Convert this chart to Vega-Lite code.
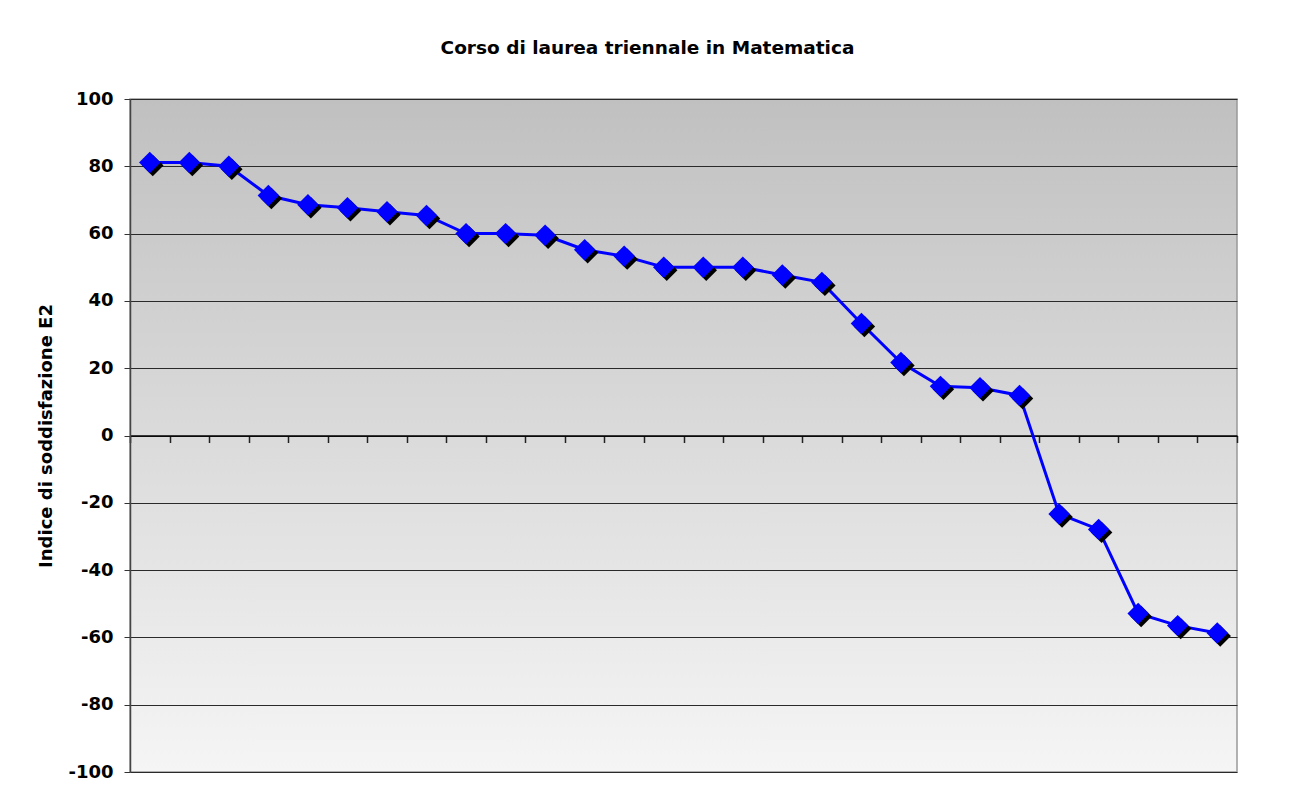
{
  "$schema": "https://vega.github.io/schema/vega-lite/v6.json",
  "width": 1107,
  "height": 673,
  "autosize": {"type": "none"},
  "padding": {"left": 130, "top": 99, "right": 53, "bottom": 36},
  "background": "white",
  "title": {
    "text": "Corso di laurea triennale in Matematica",
    "font": "DejaVu Sans",
    "fontSize": 18.5,
    "fontWeight": "bold",
    "color": "black",
    "anchor": "middle",
    "offset": 33,
    "dx": -36
  },
  "data": {
    "values": [
      {"i": 1, "v": 81.1}, {"i": 2, "v": 81.1}, {"i": 3, "v": 80.0}, {"i": 4, "v": 71.3},
      {"i": 5, "v": 68.6}, {"i": 6, "v": 67.7}, {"i": 7, "v": 66.5}, {"i": 8, "v": 65.4},
      {"i": 9, "v": 60.0}, {"i": 10, "v": 60.0}, {"i": 11, "v": 59.5}, {"i": 12, "v": 55.2},
      {"i": 13, "v": 53.3}, {"i": 14, "v": 50.0}, {"i": 15, "v": 50.0}, {"i": 16, "v": 50.0},
      {"i": 17, "v": 47.7}, {"i": 18, "v": 45.5}, {"i": 19, "v": 33.3}, {"i": 20, "v": 21.7},
      {"i": 21, "v": 14.6}, {"i": 22, "v": 14.2}, {"i": 23, "v": 11.9}, {"i": 24, "v": -23.3},
      {"i": 25, "v": -27.9}, {"i": 26, "v": -52.9}, {"i": 27, "v": -56.5}, {"i": 28, "v": -58.7}
    ]
  },
  "encoding": {
    "x": {
      "field": "i",
      "type": "ordinal",
      "scale": {"type": "band", "paddingInner": 0, "paddingOuter": 0},
      "axis": {
        "title": null,
        "labels": false,
        "offset": -336.5,
        "domainColor": "black",
        "domainWidth": 1.5,
        "tickColor": "#222",
        "tickSize": 7,
        "tickWidth": 1.5,
        "tickBand": "extent",
        "grid": false
      }
    },
    "y": {
      "field": "v",
      "type": "quantitative",
      "scale": {"domain": [-100, 100], "nice": false, "zero": false},
      "axis": {
        "title": "Indice di soddisfazione E2",
        "titleFont": "DejaVu Sans",
        "titleFontSize": 18,
        "titleFontWeight": "bold",
        "titleColor": "black",
        "titlePadding": 12,
        "values": [-100, -80, -60, -40, -20, 0, 20, 40, 60, 80, 100],
        "labelExpr": "datum.value + ''",
        "labelFont": "DejaVu Sans",
        "labelFontSize": 18,
        "labelFontWeight": "bold",
        "labelColor": "black",
        "labelPadding": 11,
        "tickSize": 6,
        "tickColor": "#333",
        "domainColor": "#444",
        "domainWidth": 1.5,
        "grid": true,
        "gridColor": "#2a2a2a",
        "gridWidth": 1,
        "gridOpacity": 1
      }
    }
  },
  "layer": [
    {"mark": {"type": "line", "color": "#0000ff", "strokeWidth": 3}},
    {"mark": {"type": "point", "shape": "diamond", "filled": true, "color": "black", "opacity": 1, "size": 460, "xOffset": 3, "yOffset": 3}},
    {"mark": {"type": "point", "shape": "diamond", "filled": true, "color": "#0000ff", "opacity": 1, "size": 460}}
  ],
  "config": {
    "view": {
      "stroke": "#999999",
      "strokeWidth": 1.5,
      "fill": {
        "gradient": "linear",
        "x1": 0, "y1": 0, "x2": 0, "y2": 1,
        "stops": [
          {"offset": 0, "color": "#c0c0c0"},
          {"offset": 1, "color": "#f5f5f5"}
        ]
      }
    }
  }
}
